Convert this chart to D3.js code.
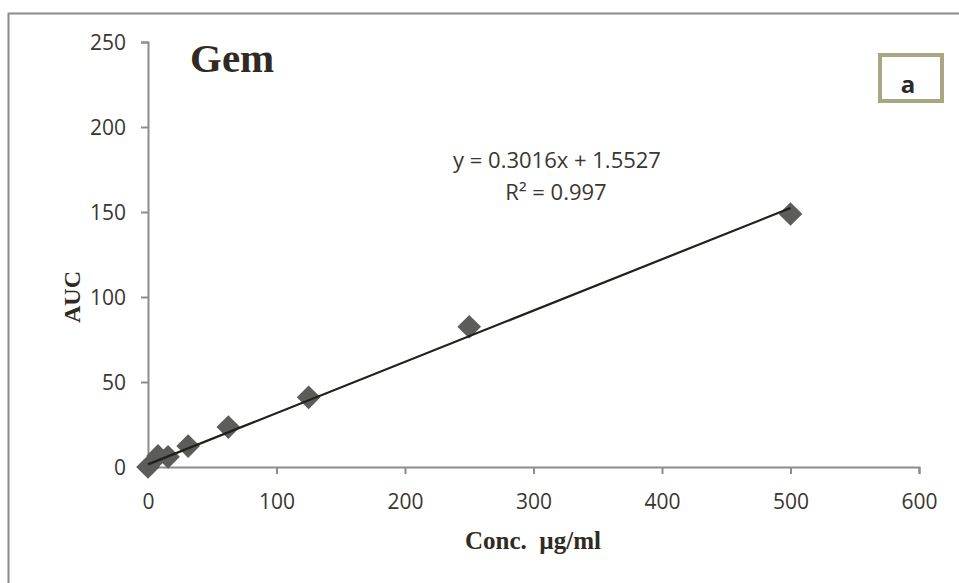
<!DOCTYPE html>
<html>
<head>
<meta charset="utf-8">
<script src="https://cdn.jsdelivr.net/npm/d3@7"></script>
<style>
  body { margin: 0; background: #fff; }
</style>
</head>
<body>
<div id="chart"></div>
<script>
// concentration (µg/ml) and measured AUC
const conc = [0, 7.8, 15.6, 31.25, 62.5, 125, 250, 500];
const auc = [0, 6.5, 6, 12.3, 23.5, 41, 82.5, 148.8];
const xTicks = [0, 100, 200, 300, 400, 500, 600];
const yTicks = [0, 50, 100, 150, 200, 250];
const slope = 0.3016, intercept = 1.5527;

const width = 959, height = 583;

const svg = d3.select("#chart")
    .append("svg")
    .attr("width", width)
    .attr("height", height);

// outer chart frame (cut at right/bottom)
svg.append("path")
    .attr("d", `M8.5,${height} V13.5 H${width}`)
    .attr("fill", "none")
    .attr("stroke", "#8c8c8c")
    .attr("stroke-width", 2);

const x = d3.scaleLinear().domain([0, 600]).range([148, 919]);
const y = d3.scaleLinear().domain([0, 250]).range([467, 42]);

const axisColor = "#8c8c8c";
const labelColor = "#3a3630";

// y axis
const yAxis = svg.append("g")
    .attr("transform", `translate(${x(0)},0)`)
    .call(d3.axisLeft(y).tickValues(yTicks).tickSize(7).tickPadding(15));
// x axis
const xAxis = svg.append("g")
    .attr("transform", `translate(0,${y(0)})`)
    .call(d3.axisBottom(x).tickValues(xTicks).tickSize(7).tickPadding(20));

[xAxis, yAxis].forEach(g => {
    g.select(".domain").attr("stroke", axisColor).attr("stroke-width", 2);
    g.selectAll(".tick line").attr("stroke", axisColor).attr("stroke-width", 2);
    g.selectAll(".tick text")
        .attr("fill", labelColor)
        .style("font-family", "'Open Sans', sans-serif")
        .style("font-size", "21px");
});
yAxis.selectAll(".tick text").attr("dy", "0.35em");

// trend line
const line = d3.line().x(d => x(d)).y(d => y(slope * d + intercept));

// diamond markers
const diamond = d3.symbol().type(d3.symbolSquare).size(280);
svg.selectAll(".pt")
    .data(conc.map((c, i) => [c, auc[i]]))
    .enter()
    .append("path")
    .attr("class", "pt")
    .attr("d", diamond)
    .attr("transform", d => `translate(${x(d[0])},${y(d[1])}) rotate(45)`)
    .attr("fill", "#5c5c5a");

svg.append("path")
    .datum([0, 500])
    .attr("d", line)
    .attr("fill", "none")
    .attr("stroke", "#231f1a")
    .attr("stroke-width", 2.2);

// title
svg.append("text")
    .attr("x", 190)
    .attr("y", 72)
    .text("Gem")
    .attr("fill", "#2f2b22")
    .style("font-family", "'Liberation Serif', serif")
    .style("font-weight", "bold")
    .style("font-size", "41px");

// equation
svg.append("text")
    .attr("x", 557)
    .attr("y", 168)
    .attr("text-anchor", "middle")
    .attr("fill", labelColor)
    .style("font-family", "'Open Sans', sans-serif")
    .style("font-size", "22px")
    .text("y = 0.3016x + 1.5527");
svg.append("text")
    .attr("x", 556)
    .attr("y", 200)
    .attr("text-anchor", "middle")
    .attr("fill", labelColor)
    .style("font-family", "'Open Sans', sans-serif")
    .style("font-size", "22px")
    .text("R² = 0.997");

// panel label box
svg.append("rect")
    .attr("x", 880)
    .attr("y", 55)
    .attr("width", 62)
    .attr("height", 46)
    .attr("fill", "#fff")
    .attr("stroke", "#aaa682")
    .attr("stroke-width", 4);
svg.append("text")
    .attr("x", 908)
    .attr("y", 93)
    .attr("text-anchor", "middle")
    .attr("fill", "#2a2a2a")
    .style("font-family", "'Open Sans', sans-serif")
    .style("font-weight", "bold")
    .style("font-size", "24px")
    .text("a");

// axis titles
svg.append("text")
    .attr("x", 533)
    .attr("y", 549)
    .attr("text-anchor", "middle")
    .attr("fill", "#2f2b22")
    .style("font-family", "'Liberation Serif', serif")
    .style("font-weight", "bold")
    .style("font-size", "25px")
    .style("white-space", "pre")
    .text("Conc.  µg/ml");
svg.append("text")
    .attr("transform", "translate(80,297) rotate(-90)")
    .attr("text-anchor", "middle")
    .attr("fill", "#2f2b22")
    .style("font-family", "'Liberation Serif', serif")
    .style("font-weight", "bold")
    .style("font-size", "24px")
    .text("AUC");
</script>
</body>
</html>
